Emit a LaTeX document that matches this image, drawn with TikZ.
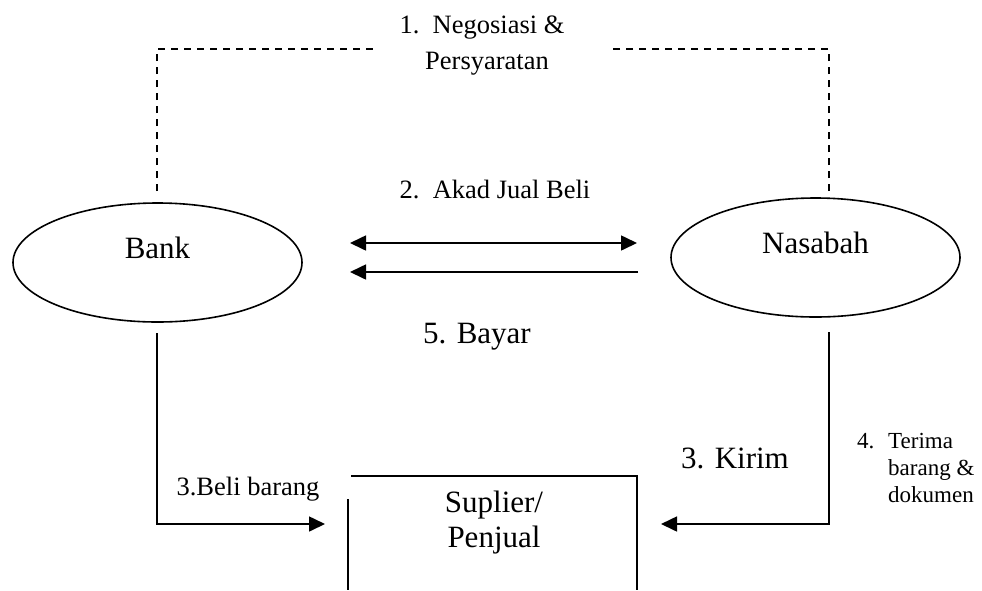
\documentclass[tikz,border=0pt]{standalone}
\usepackage{fontspec}
\setmainfont{Liberation Serif}
\usetikzlibrary{shapes.geometric,arrows.meta}
\begin{document}
\begin{tikzpicture}[x=1pt,y=-1pt,
  line/.style={line width=1.6pt},
  dline/.style={line width=1.5pt,dash pattern=on 7pt off 6pt},
  arr/.style={line width=1.6pt,-{Triangle[length=16pt,width=15pt]}},
  darr/.style={line width=1.6pt,{Triangle[length=16pt,width=15pt]}-{Triangle[length=16pt,width=15pt]}},
  oval/.style={ellipse,draw,line width=1.6pt,minimum width=289pt,minimum height=119pt,inner sep=0pt,
    font=\fontsize{31}{35}\selectfont,text height=21pt,text depth=30pt},
  big/.style={font=\fontsize{31}{35}\selectfont,inner sep=0pt,anchor=base},
  mid/.style={font=\fontsize{26.5}{30}\selectfont,inner sep=0pt,anchor=base},
  small/.style={font=\fontsize{23}{27}\selectfont,inner sep=0pt,anchor=base west}]
\useasboundingbox (0,0) rectangle (982,590);
% ellipses
\node[oval] (bank) at (157.5,262.5) {Bank};
\node[oval] (nas) at (815.5,257.5) {Nasabah};
% texts
\node[mid] (neg) at (482,33) {1.\ \ Negosiasi \&};
\node[mid] (per) at (487,69) {Persyaratan};
\node[mid] (akad) at (495,198) {2.\ \ Akad Jual Beli};
\node[big] (bayar) at (477,343) {5. Bayar};
\node[mid] (beli) at (248,495) {3.Beli barang};
\node[big] (kirim) at (735,468) {3. Kirim};
\node[small] (t4) at (857,448) {4.};
\node[small] (t4a) at (888,448) {Terima};
\node[small] (t4b) at (888,475) {barang \&};
\node[small] (t4c) at (888,502) {dokumen};
\node[big] (sup) at (494,512) {Suplier/};
\node[big] (pen) at (494,547) {Penjual};
% box
\draw[line] (351,476) -- (637,476) -- (637,590);
\draw[line] (348,499) -- (348,590);
% dashed negotiation
\coordinate (dl0) at (157,191);
\coordinate (dl1) at (157,49);
\coordinate (dl2) at (375,49);
\coordinate (dr0) at (829,191);
\coordinate (dr1) at (829,49);
\coordinate (dr2) at (613,49);
\draw[dline] (dl0) -- (dl1) -- (dl2);
\draw[dline] (dr0) -- (dr1) -- (dr2);
% akad and bayar arrows
\coordinate (a1) at (350,243);
\coordinate (a2) at (637,243);
\coordinate (b1) at (638,272);
\coordinate (b2) at (350,272);
\draw[darr] (a1) -- (a2);
\draw[arr] (b1) -- (b2);
% bank to supplier
\coordinate (bs0) at (157,333);
\coordinate (bs1) at (157,524);
\coordinate (bs2) at (325,524);
\draw[arr] (bs0) -- (bs1) -- (bs2);
% nasabah to supplier
\coordinate (ns0) at (829,332);
\coordinate (ns1) at (829,524);
\coordinate (ns2) at (661,524);
\draw[arr] (ns0) -- (ns1) -- (ns2);
\end{tikzpicture}
\end{document}
